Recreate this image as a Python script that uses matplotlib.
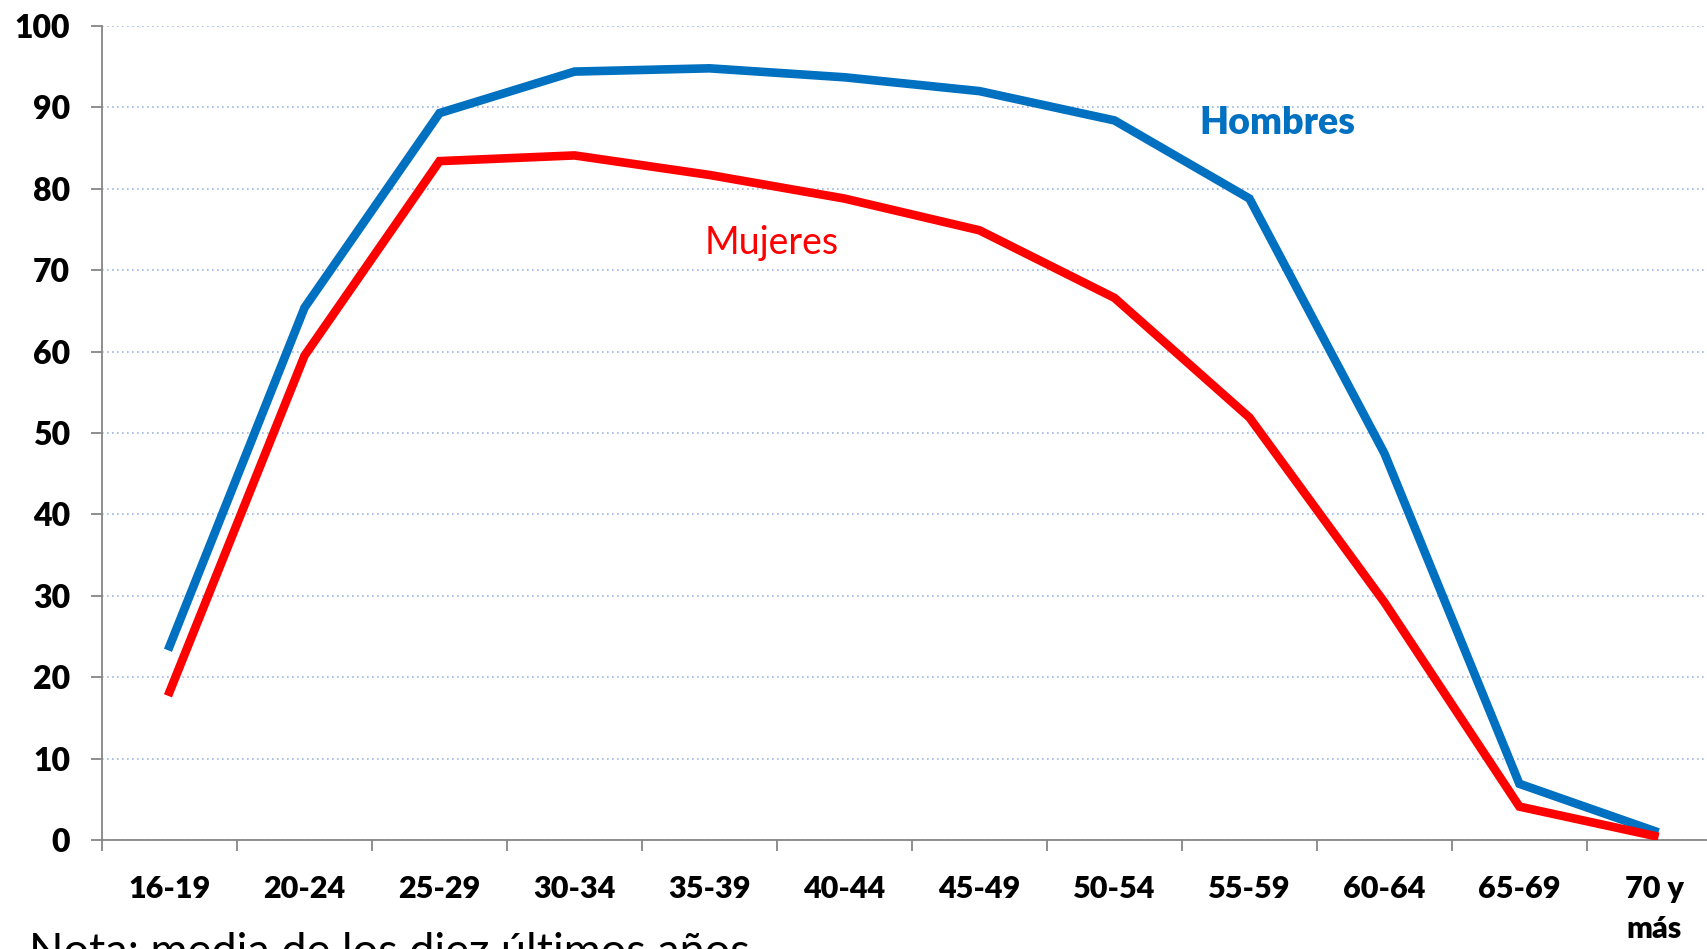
import matplotlib
matplotlib.use("Agg")
import matplotlib.pyplot as plt
import numpy as np

# age groups and rates (media de los diez ultimos años)
grupos = ["16-19", "20-24", "25-29", "30-34", "35-39", "40-44",
          "45-49", "50-54", "55-59", "60-64", "65-69", "70 y\nmás"]
hombres = [23.8, 65.4, 89.3, 94.4, 94.8, 93.7, 92.0, 88.4, 78.8, 47.5, 6.9, 1.1]
mujeres = [18.2, 59.5, 83.4, 84.1, 81.7, 78.8, 74.9, 66.6, 51.9, 29.2, 4.1, 0.5]
yticks = list(range(0, 101, 10))

azul = "#0070C0"
rojo = "#FF0000"
gris = "#868686"

plt.rcParams['font.family'] = ['Lato', 'DejaVu Sans']

fig = plt.figure(figsize=(17.07, 9.49), dpi=100)
ax = fig.add_axes([0.0598, 0.1149, 0.9402, 0.8577])

x = np.arange(len(grupos))
ax.plot(x, hombres, color=azul, lw=6.2, solid_joinstyle='miter', zorder=3)
ax.plot(x, mujeres, color=rojo, lw=6.2, solid_joinstyle='miter', zorder=3)

ax.text(8.21, 88.1, "Hombres", color=azul, fontsize=27, fontweight='heavy',
        ha='center', va='center')
ax.text(4.46, 73.4, "Mujeres", color=rojo, fontsize=27,
        ha='center', va='center')

ax.set_xlim(-0.5, 11.39)
ax.set_ylim(0, 100)
ax.set_yticks(yticks)
ax.set_yticklabels([str(v) for v in yticks], fontsize=23, fontweight='heavy')
ax.set_xticks(np.arange(-0.5, 11.5, 1.0))
ax.set_xticklabels([])
ax.set_xticks(x, minor=True)
ax.set_xticklabels(grupos, minor=True, fontsize=22, fontweight='heavy',
                   linespacing=1.55, va='top')
ax.tick_params(axis='x', which='minor', length=0, pad=25)
ax.tick_params(axis='x', which='major', length=8, width=1.3, color=gris)
ax.tick_params(axis='y', length=8, width=1.3, color=gris, pad=15)

ax.grid(axis='y', linestyle=(0, (1, 2)), color="#9DB6E3", lw=1.2)
ax.set_axisbelow(True)
for s in ['top', 'right']:
    ax.spines[s].set_visible(False)
for s in ['left', 'bottom']:
    ax.spines[s].set_color(gris)
    ax.spines[s].set_linewidth(1.3)

fig.text(0.017, 0.018, "Nota: media de los diez últimos años", fontsize=32.5,
         ha='left', va='top')

fig.savefig("out.png", dpi=100)
